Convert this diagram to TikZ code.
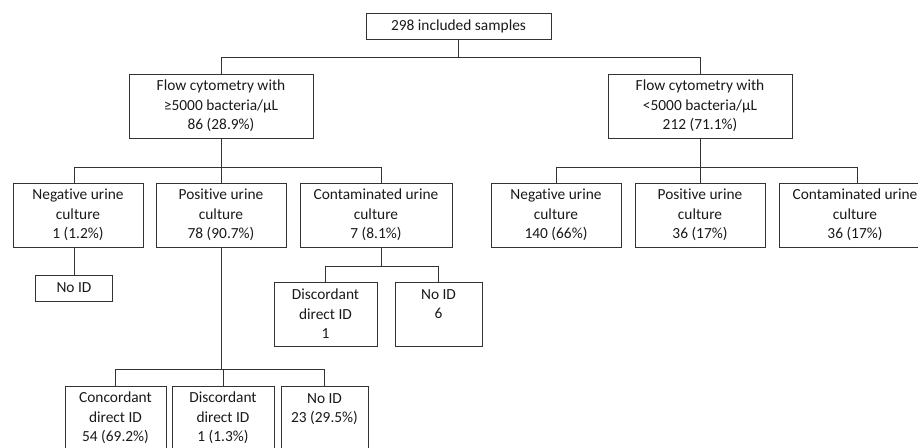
\documentclass[tikz,border=0pt]{standalone}
\usepackage{fontspec}
\setmainfont{Carlito}[RawFeature={-liga;-clig;-dlig}]
\begin{document}
\begin{tikzpicture}[x=1pt,y=-1pt,
  box/.style={draw=black!80, line width=0.9pt, rectangle, inner sep=0pt, align=center,
    font=\fontsize{15.4}{19.5}\selectfont, text=black!90, minimum height=64pt},
  conn/.style={draw=black!80, line width=0.9pt}]
\useasboundingbox (0,0) rectangle (918,447);
\begin{scope}
\clip (0,0) rectangle (918,447);
\node[box, minimum width=185pt, minimum height=26pt] (top) at (458.5,26) {298 included samples};
\node[box, minimum width=184pt] (fcl) at (221,106) {Flow cytometry with\\≥5000 bacteria/µL\\86 (28.9\%)};
\node[box, minimum width=184pt] (fcr) at (700,106) {Flow cytometry with\\<5000 bacteria/µL\\212 (71.1\%)};
\node[box, minimum width=130pt] (negl) at (78,215) {Negative urine\\culture\\1 (1.2\%)};
\node[box, minimum width=130pt] (posl) at (221,215) {Positive urine\\culture\\78 (90.7\%)};
\node[box, minimum width=152pt] (contl) at (376,215) {Contaminated urine\\culture\\7 (8.1\%)};
\node[box, minimum width=130pt] (negr) at (556,215) {Negative urine\\culture\\140 (66\%)};
\node[box, minimum width=130pt] (posr) at (700,215) {Positive urine\\culture\\36 (17\%)};
\node[box, minimum width=152pt] (contr) at (855,215) {Contaminated urine\\culture\\36 (17\%)};
\node[box, minimum width=77pt, minimum height=26pt] (noid1) at (74,288) {No ID};
\node[box, minimum width=103pt] (disc1) at (325.5,314) {Discordant\\direct ID\\1};
\node[box, minimum width=87pt] (noid6) at (438.5,314) {No ID\\6\\\phantom{1}};
\node[box, minimum width=101pt] (conc) at (115.5,418) {Concordant\\direct ID\\54 (69.2\%)};
\node[box, minimum width=102pt] (disc2) at (223,418) {Discordant\\direct ID\\1 (1.3\%)};
\node[box, minimum width=87pt] (noid23) at (324.5,418) {No ID\\23 (29.5\%)\\\phantom{1}};

% level 1 -> 2
\draw[conn] (top.south) -- (top.south |- 0,57);
\draw[conn] (fcl.north) -- (fcl.north |- 0,57) -- (fcr.north |- 0,57) -- (fcr.north);
% left level 2 -> 3
\draw[conn] (fcl.south) -- (fcl.south |- 0,167);
\draw[conn] ([xshift=-4pt]negl.north) -- ([xshift=-4pt]negl.north |- 0,167) -- ([xshift=5pt]contl.north |- 0,167) -- ([xshift=5pt]contl.north);
\draw[conn] (posl.north) -- (posl.north |- 0,167);
% right level 2 -> 3
\draw[conn] (fcr.south) -- (fcr.south |- 0,167);
\draw[conn] (negr.north) -- (negr.north |- 0,167) -- ([xshift=2pt]contr.north |- 0,167) -- ([xshift=2pt]contr.north);
\draw[conn] (posr.north) -- (posr.north |- 0,167);
% negative -> no ID
\draw[conn] ([xshift=-4pt]negl.south) -- (noid1.north);
% contaminated -> level 4
\draw[conn] ([xshift=5pt]contl.south) -- ([xshift=5pt]contl.south |- 0,266);
\draw[conn] (disc1.north) -- (disc1.north |- 0,266) -- (noid6.north |- 0,266) -- (noid6.north);
% positive -> bottom
\draw[conn] (posl.south) -- (posl.south |- 0,369);
\draw[conn] (conc.north) -- (conc.north |- 0,369) -- (noid23.north |- 0,369) -- (noid23.north);
\draw[conn] (disc2.north) -- (disc2.north |- 0,369);
\end{scope}
\end{tikzpicture}
\end{document}
